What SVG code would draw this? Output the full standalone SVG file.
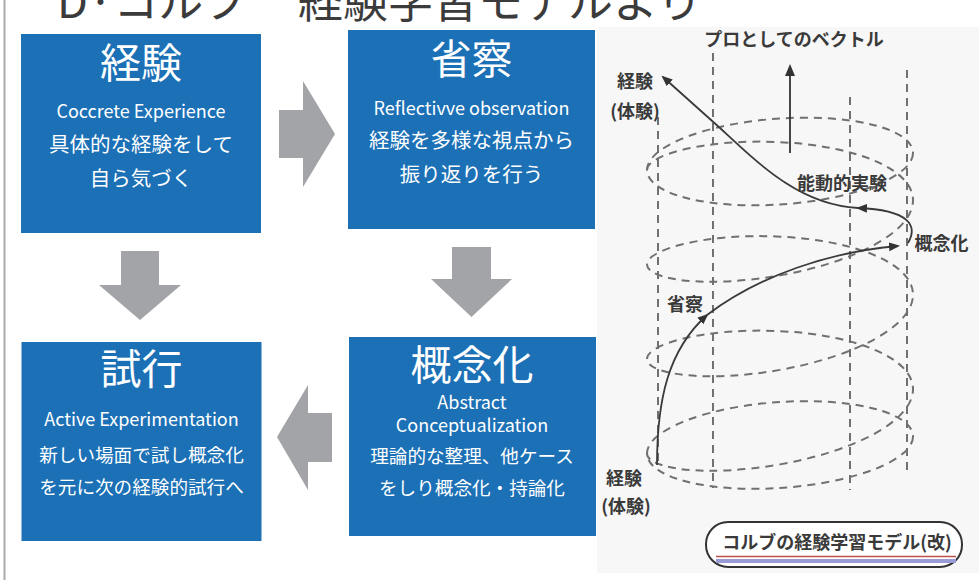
<svg xmlns="http://www.w3.org/2000/svg" width="979" height="580" viewBox="0 0 979 580">
<style>
.box{fill:#1b70b6}
.jp{font-family:"Noto Sans CJK JP","Noto Sans",sans-serif}
.bt{font-size:41px;fill:#fff;text-anchor:middle;dominant-baseline:central}
.bl{font-size:18px;fill:#fff;text-anchor:middle;dominant-baseline:central}
.bj{font-size:20.5px;fill:#fff;text-anchor:middle;dominant-baseline:central}
.bj2{font-size:18.6px;fill:#fff;text-anchor:middle;dominant-baseline:central}
.garrow{fill:#a3a4a8}
.dash{fill:none;stroke:#707070;stroke-width:2;stroke-dasharray:8 6}
.solid{fill:none;stroke:#3a3a3a;stroke-width:1.8}
.lab{font-size:18px;font-weight:700;fill:#3a3a3a;text-anchor:middle;dominant-baseline:central}
</style>
<defs>
<marker id="ah" markerUnits="userSpaceOnUse" markerWidth="12" markerHeight="10" refX="9" refY="4.5" orient="auto">
<path d="M0,0 L11,4.5 L0,9 z" fill="#333"/>
</marker>
</defs>
<rect x="0" y="0" width="979" height="580" fill="#fff"/>
<line x1="4.5" y1="0" x2="4.5" y2="580" stroke="#a9a9a9" stroke-width="2"/>
<g id="title" class="jp" fill="#3b3b3b" font-size="45">
<text x="57" y="18">D·コルブ</text>
<text x="298" y="18">経験学習モデルより</text>
</g>
<g id="node-keiken" class="jp">
<rect class="box" x="21" y="34" width="240" height="199"/>
<text class="bt" x="141" y="60">経験</text>
<text class="bl" x="141" y="110">Coccrete Experience</text>
<text class="bj" x="141" y="143">具体的な経験をして</text>
<text class="bj" x="141" y="177">自ら気づく</text>
</g>
<g id="node-seisatsu" class="jp">
<rect class="box" x="348" y="30" width="247" height="199"/>
<text class="bt" x="471.5" y="56">省察</text>
<text class="bl" x="471.5" y="107">Reflectivve observation</text>
<text class="bj" x="471.5" y="139">経験を多様な視点から</text>
<text class="bj" x="471.5" y="173">振り返りを行う</text>
</g>
<g id="node-shikou" class="jp">
<rect class="box" x="21.5" y="342" width="240" height="199"/>
<text class="bt" x="141.5" y="366">試行</text>
<text class="bl" x="141.5" y="418">Active Experimentation</text>
<text class="bj2" x="141.5" y="453">新しい場面で試し概念化</text>
<text class="bj2" x="141.5" y="485">を元に次の経験的試行へ</text>
</g>
<g id="node-gainen" class="jp">
<rect class="box" x="349" y="337" width="247" height="199"/>
<text class="bt" x="472" y="362">概念化</text>
<text class="bl" x="472" y="401">Abstract</text>
<text class="bl" x="472" y="424">Conceptualization</text>
<text class="bj2" x="472" y="454">理論的な整理、他ケース</text>
<text class="bj2" x="472" y="486">をしり概念化・持論化</text>
</g>
<g id="connectors">
<polygon class="garrow" points="279,110 303,110 303,81 335,134 303,187 303,158 279,158"/>
<polygon class="garrow" points="121,251 159,251 159,285 181,285 140,320 99,285 121,285"/>
<polygon class="garrow" points="452,247 491,247 491,279 512,279 471.5,317 431,279 452,279"/>
<polygon class="garrow" points="332,413 332,462 308,462 308,490 277,437 308,385 308,413"/>
</g>
<g id="spiral-figure">
<rect x="597" y="27" width="382" height="546" fill="#f7f7f7"/>
<g class="dash">
<line x1="658" y1="117" x2="658" y2="462"/>
<line x1="713" y1="53" x2="713" y2="488"/>
<line x1="850" y1="97" x2="850" y2="490"/>
<line x1="907" y1="70" x2="907" y2="470"/>
</g>
<g class="dash" transform="matrix(1,-0.064,0,1,0,49.92)">
<ellipse cx="780" cy="161.5" rx="133" ry="43"/>
<path d="M647,161.5 C647,146.06 706.54,133.82 780,142.13 C853.46,150.44 913,176.69 913,208.75 C913,240.81 853.46,267.07 780,275.38 C706.54,283.69 647,271.44 647,256 C647,240.56 706.54,228.32 780,236.63 C853.46,244.94 913,271.19 913,303.25 C913,335.31 853.46,361.57 780,369.88 C706.54,378.19 647,365.94 647,350.5 C647,335.06 706.54,322.82 780,331.13 C853.46,339.44 913,365.69 913,397.75 C913,429.81 853.46,456.07 780,464.38 C706.54,472.69 647,460.44 647,445"/>
<ellipse cx="780" cy="445" rx="133" ry="43"/>
</g>
<line x1="790" y1="153" x2="790" y2="74" stroke="#333" stroke-width="1.8"/>
<path d="M785,76 L790,64 L795,76 z" fill="#333"/>
<g class="solid">
<path d="M657,465 C657,400 668,350 707,315" marker-end="url(#ah)"/>
<path d="M707,315 C760,275 830,252 898,246" marker-end="url(#ah)"/>
<path d="M908,243 C918,226 910,210 858,208" marker-end="url(#ah)"/>
<path d="M858,208 C800,205 760,165 720,128 C700,110 680,92 663,77" marker-end="url(#ah)"/>
</g>
<g class="jp">
<text class="lab" x="794" y="38" font-size="17">プロとしてのベクトル</text>
<text class="lab" x="635" y="80">経験</text>
<text class="lab" x="635" y="110">(体験)</text>
<text class="lab" x="842" y="182" font-size="19">能動的実験</text>
<text class="lab" x="941.5" y="242" font-size="19">概念化</text>
<text class="lab" x="685" y="303">省察</text>
<text class="lab" x="624" y="477">経験</text>
<text class="lab" x="626" y="505">(体験)</text>
</g>
<g id="caption">
<rect x="706" y="522" width="256" height="45" rx="22" ry="22" fill="#fff" stroke="#333" stroke-width="2"/>
<text class="jp lab" x="837" y="541" font-size="18.5">コルブの経験学習モデル(改)</text>
<line x1="716" y1="556.5" x2="956" y2="556.5" stroke="#c0504d" stroke-width="1.5"/>
<line x1="716" y1="561" x2="956" y2="561" stroke="#9a9ad8" stroke-width="4"/>
</g>
</g>
</svg>
